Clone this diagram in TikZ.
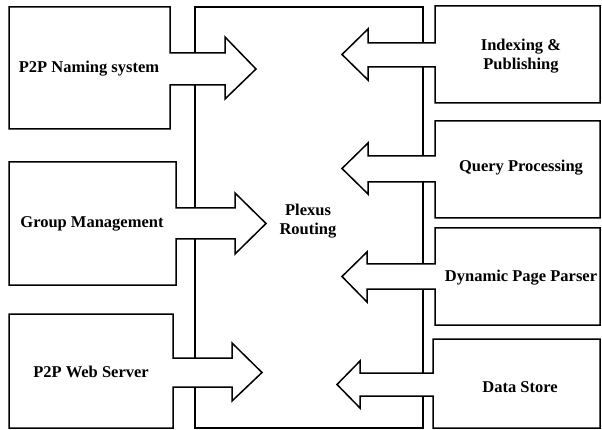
\documentclass[tikz,border=0pt]{standalone}
\usepackage{fontspec}
\setmainfont{Liberation Serif}
\begin{document}
\begin{tikzpicture}[x=1pt,y=-1pt,
  block/.style={draw=black,fill=white,line width=1.5pt,line join=miter},
  label/.style={font=\bfseries\fontsize{16.5}{19}\selectfont,align=center,inner sep=0pt}]
\useasboundingbox (0,0) rectangle (602,430);

% central routing block
\draw[block] (195,7) rectangle (423,428);

% modules on the left, each with an arrow pointing right into the router
\draw[block] (9,7) -- (170,7) -- (170,53) -- (225,53) -- (225,37) -- (256,69)
  -- (225,99) -- (225,85) -- (170,85) -- (170,129) -- (9,129) -- cycle;
\draw[block] (9,162) -- (176,162) -- (176,208) -- (235,208) -- (235,193) -- (266,223.5)
  -- (235,254) -- (235,239) -- (176,239) -- (176,285) -- (9,285) -- cycle;
\draw[block] (9,314) -- (173,314) -- (173,358) -- (232,358) -- (232,343) -- (262,372.5)
  -- (232,401) -- (232,387) -- (173,387) -- (173,428) -- (9,428) -- cycle;

% modules on the right, each with an arrow pointing left into the router
\draw[block] (600,6) -- (435,6) -- (435,43) -- (368,43) -- (368,29) -- (342,54.5)
  -- (368,80) -- (368,67) -- (435,67) -- (435,103) -- (600,103) -- cycle;
\draw[block] (600,121) -- (435,121) -- (435,156) -- (368,156) -- (368,143) -- (342,168.5)
  -- (368,194) -- (368,182) -- (435,182) -- (435,218) -- (600,218) -- cycle;
\draw[block] (600,228) -- (435,228) -- (435,264) -- (367,264) -- (367,252) -- (342,276.5)
  -- (367,302) -- (367,289) -- (435,289) -- (435,325) -- (600,325) -- cycle;
\draw[block] (600,339) -- (433,339) -- (433,373) -- (360,373) -- (360,361) -- (337,384.5)
  -- (360,408) -- (360,396) -- (433,396) -- (433,428) -- (600,428) -- cycle;

% labels
\node[label] (naming) at (89,69) {P2P Naming system};
\node[label] (group) at (92,224) {Group Management};
\node[label] (web) at (91,372) {P2P Web Server};
\node[label] (plexus) at (308,221) {Plexus\\Routing};
\node[label] (index) at (521,56) {Indexing \&\\Publishing};
\node[label] (query) at (521,168) {Query Processing};
\node[label] (parser) at (521,278) {Dynamic Page Parser};
\node[label] (store) at (520,387) {Data Store};
\end{tikzpicture}
\end{document}
